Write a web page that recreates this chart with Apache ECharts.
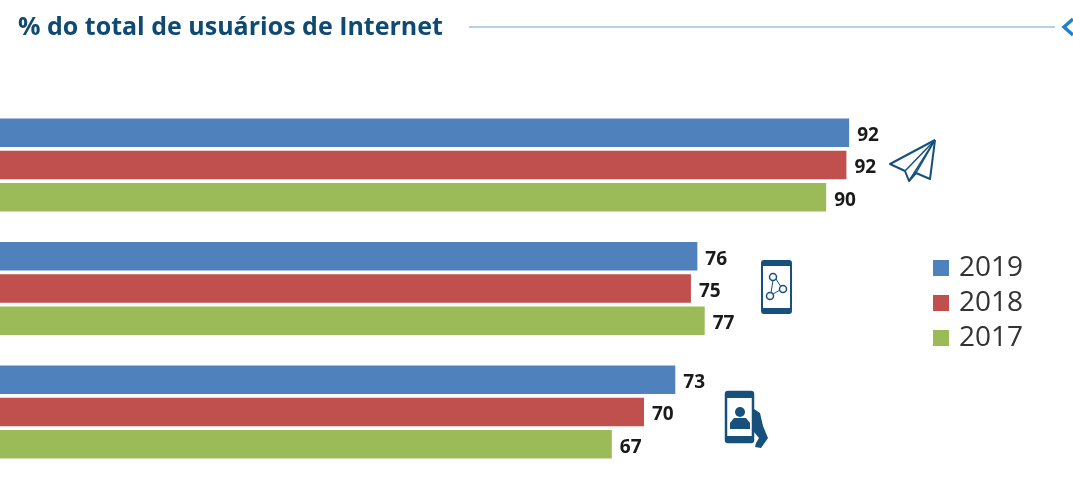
<!DOCTYPE html>
<html>
<head>
<meta charset="utf-8">
<title>% do total de usuários de Internet</title>
<style>
  html, body { margin: 0; padding: 0; background: #fff; }
  #chart { width: 1073px; height: 485px; }
</style>
<script src="https://cdn.jsdelivr.net/npm/echarts@6/dist/echarts.min.js"></script>
</head>
<body>
<div id="chart"></div>
<script>
// the category names are cut off in the picture, so they stay hidden
const categories = ['Grupo 1', 'Grupo 2', 'Grupo 3'];
const years = ['2019', '2018', '2017'];
// the labels show them rounded
const values2019 = [92.3, 75.8, 73.4];
const values2018 = [92.0, 75.1, 70.0];
const values2017 = [89.8, 76.6, 66.5];
const colors = ['#4f81bd', '#c0504d', '#9bbb59'];

const titleText = '% do total de usuários de Internet';
const fontName = '"Open Sans", sans-serif';
const iconColor = '#17507a';

const makeSeries = (name, data, color) => ({
  name: name,
  type: 'bar',
  data: data,
  barWidth: 28.5,
  barGap: '13%',
  itemStyle: { color: color },
  label: {
    show: true,
    position: 'right',
    distance: 8,
    offset: [0, 3],
    fontFamily: fontName,
    fontWeight: 'bold',
    fontSize: 19,
    color: '#1a1a1a',
    formatter: (p) => Math.round(p.value),
  },
});

// small helpers for the decoration icons
const outline = (points, lineWidth) => ({
  type: 'polyline',
  shape: { points: points },
  style: { fill: 'none', stroke: iconColor, lineWidth: lineWidth, lineJoin: 'round' },
});
const solid = (points) => ({
  type: 'polygon',
  shape: { points: points },
  style: { fill: iconColor },
});
const box = (x, y, width, height, lineWidth) => ({
  type: 'rect',
  shape: { x: x, y: y, width: width, height: height, r: 2 },
  style: { fill: 'none', stroke: iconColor, lineWidth: lineWidth },
});
const bar = (x, y, width, height) => ({
  type: 'rect',
  shape: { x: x, y: y, width: width, height: height },
  style: { fill: iconColor },
});
const ringDot = (cx, cy) => ({
  type: 'circle',
  shape: { cx: cx, cy: cy, r: 3.5 },
  style: { fill: 'none', stroke: iconColor, lineWidth: 1.5 },
});

const chart = echarts.init(document.getElementById('chart'));
chart.setOption({
  backgroundColor: '#ffffff',
  animation: false,
  title: {
    text: titleText,
    left: 13,
    top: 10,
    textStyle: {
      fontFamily: fontName,
      fontWeight: 'bold',
      fontSize: 25,
      color: '#0f4a72',
    },
  },
  legend: {
    data: years,
    orient: 'vertical',
    left: 928,
    top: 249,
    itemWidth: 16,
    itemHeight: 16,
    itemGap: 7,
    icon: 'rect',
    textStyle: { fontFamily: fontName, fontSize: 28, color: '#333333', padding: [0, 0, 0, 5] },
  },
  grid: { left: 0, top: 103.25, width: 920, height: 370.5 },
  xAxis: { type: 'value', min: 0, max: 100, show: false },
  yAxis: {
    type: 'category',
    data: categories,
    inverse: true,
    axisLine: { show: false },
    axisTick: { show: false },
    axisLabel: { show: false },
  },
  series: [
    makeSeries(years[0], values2019, colors[0]),
    makeSeries(years[1], values2018, colors[1]),
    makeSeries(years[2], values2017, colors[2]),
  ],
  graphic: [
    // header rule and arrow
    { type: 'line', shape: { x1: 469, y1: 27, x2: 1055, y2: 27 }, style: { stroke: '#9cc2e0', lineWidth: 1.5 } },
    { type: 'polyline', shape: { points: [[1073, 19], [1064, 27], [1073, 35]] }, style: { fill: 'none', stroke: '#1f80d0', lineWidth: 3.5 } },
    // paper plane
    outline([[935, 140], [890, 164], [905, 171], [909, 181], [916, 173], [930, 179], [935, 140]], 2),
    outline([[935, 140], [905, 171]], 1.5),
    outline([[935, 140], [909, 181]], 1.5),
    outline([[935, 140], [916, 173]], 1.5),
    // phone with share nodes
    box(762, 261, 29, 52, 2),
    bar(762, 261, 29, 5),
    bar(762, 308, 29, 5),
    outline([[773, 280], [771, 293]], 1),
    outline([[776, 279], [781, 287]], 1),
    outline([[773, 294], [780, 290]], 1),
    ringDot(773, 277),
    ringDot(783, 289),
    ringDot(770, 296),
    // phone with person and hand
    box(726, 392, 27, 50, 2.5),
    bar(726, 392, 27, 6),
    bar(726, 436, 27, 6),
    { type: 'circle', shape: { cx: 740, cy: 412, r: 5 }, style: { fill: iconColor } },
    solid([[730, 429], [730, 423], [734, 418], [746, 418], [750, 423], [750, 429]]),
    solid([[754, 409], [760, 413], [763, 426], [768, 438], [761, 448], [755, 447], [756, 443], [759, 438], [754, 432]]),
  ],
});
</script>
</body>
</html>
